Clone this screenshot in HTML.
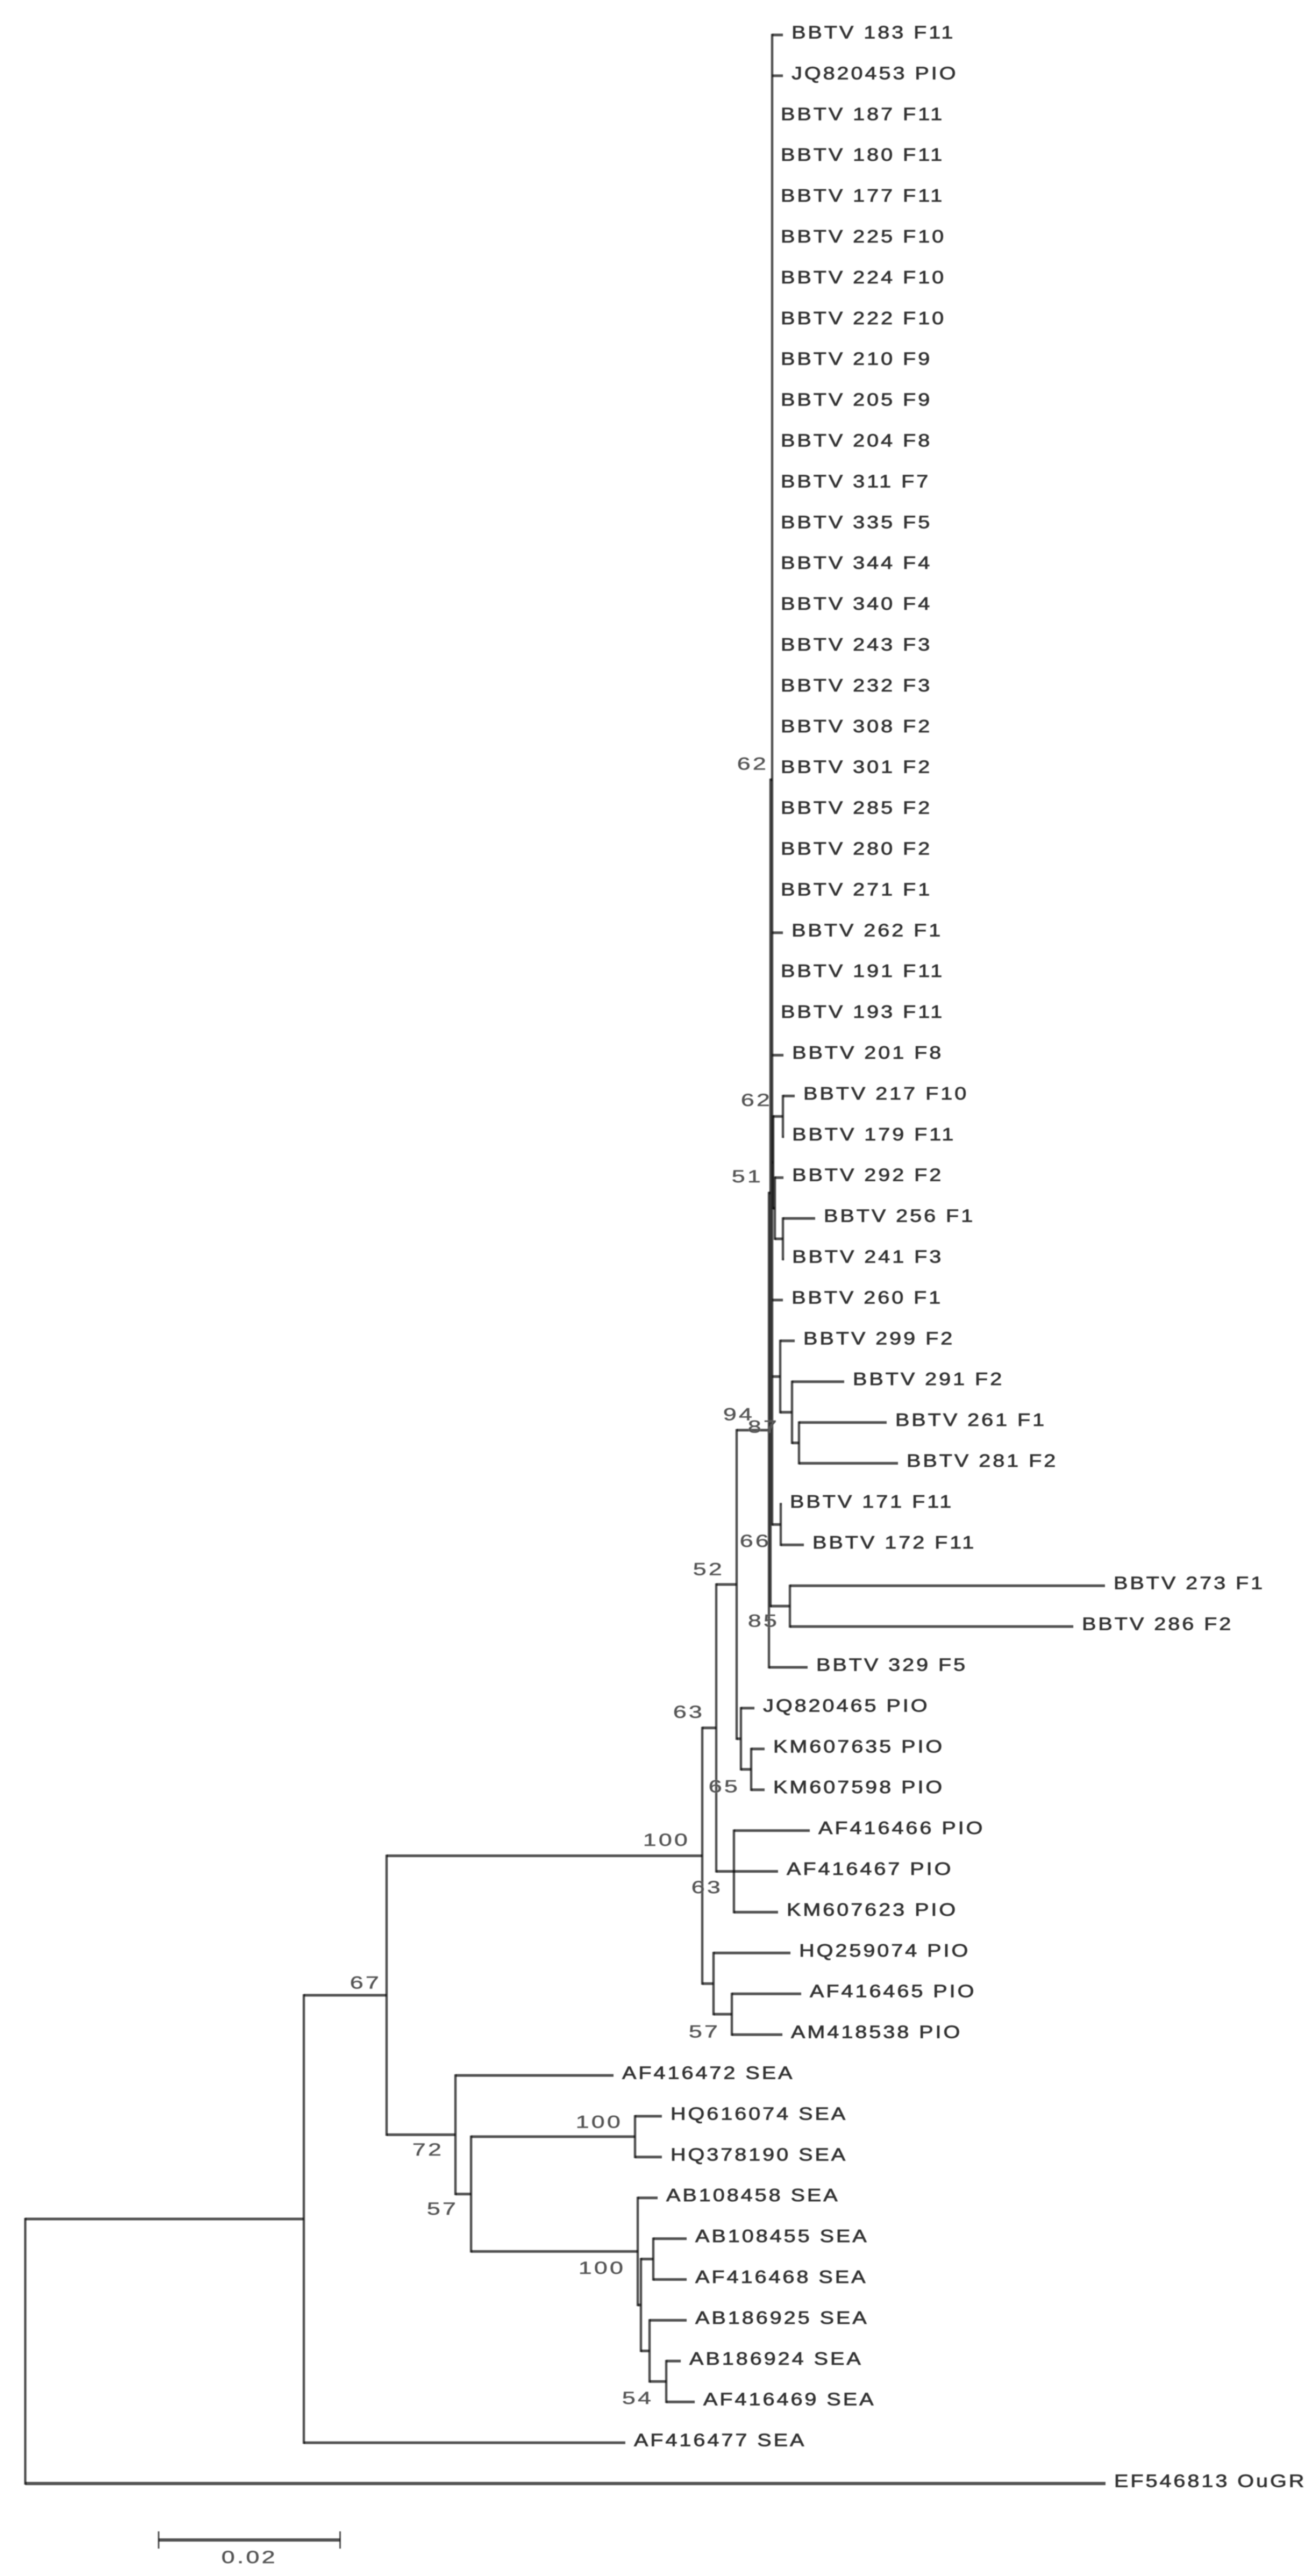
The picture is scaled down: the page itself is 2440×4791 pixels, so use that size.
<!DOCTYPE html>
<html lang="en">
<head>
<meta charset="utf-8">
<title>Phylogenetic tree of BBTV isolates</title>
<style>
  html, body { margin: 0; padding: 0; background: #fff; }
  body { width: 2440px; height: 4791px; overflow: hidden; }
  svg { display: block; }
  .branch { stroke: #000; stroke-opacity: .68; fill: none; stroke-linecap: butt; }
  .taxon { font-family: "Liberation Sans", sans-serif; font-size: 33px; letter-spacing: 3.3px; fill: #333; stroke: #333; stroke-width: .8px; }
  .support { font-family: "Liberation Sans", sans-serif; font-size: 32px; letter-spacing: 3px; fill: #555; stroke: #555; stroke-width: .5px; }
</style>
</head>
<body>
<svg id="tree" xmlns="http://www.w3.org/2000/svg" width="2440" height="4791" viewBox="0 0 2440 4791">
  <defs>
    <filter id="soft" x="0" y="0" width="2440" height="4791" filterUnits="userSpaceOnUse">
      <feGaussianBlur stdDeviation="0.9"/>
    </filter>
  </defs>
  <rect width="2440" height="4791" fill="#fff"/>
  <g id="plot" filter="url(#soft)"></g>
</svg>
<script>
// Taxa, top to bottom
const taxa = ["BBTV 183 F11","JQ820453 PIO","BBTV 187 F11","BBTV 180 F11","BBTV 177 F11","BBTV 225 F10","BBTV 224 F10","BBTV 222 F10","BBTV 210 F9","BBTV 205 F9","BBTV 204 F8","BBTV 311 F7","BBTV 335 F5","BBTV 344 F4","BBTV 340 F4","BBTV 243 F3","BBTV 232 F3","BBTV 308 F2","BBTV 301 F2","BBTV 285 F2","BBTV 280 F2","BBTV 271 F1","BBTV 262 F1","BBTV 191 F11","BBTV 193 F11","BBTV 201 F8","BBTV 217 F10","BBTV 179 F11","BBTV 292 F2","BBTV 256 F1","BBTV 241 F3","BBTV 260 F1","BBTV 299 F2","BBTV 291 F2","BBTV 261 F1","BBTV 281 F2","BBTV 171 F11","BBTV 172 F11","BBTV 273 F1","BBTV 286 F2","BBTV 329 F5","JQ820465 PIO","KM607635 PIO","KM607598 PIO","AF416466 PIO","AF416467 PIO","KM607623 PIO","HQ259074 PIO","AF416465 PIO","AM418538 PIO","AF416472 SEA","HQ616074 SEA","HQ378190 SEA","AB108458 SEA","AB108455 SEA","AF416468 SEA","AB186925 SEA","AB186924 SEA","AF416469 SEA","AF416477 SEA","EF546813 OuGR"];
// Divergence from the root (substitutions per site) of each taxon
const taxonDepth = [.08350,.08350,.08231,.08231,.08231,.08231,.08231,.08231,.08231,.08231,.08231,.08231,.08231,.08231,.08231,.08231,.08231,.08231,.08231,.08231,.08231,.08231,.08350,.08231,.08231,.08356,.08480,.08356,.08356,.08705,.08356,.08350,.08480,.09025,.09493,.09618,.08332,.08581,.11899,.11550,.08622,.08036,.08148,.08148,.08646,.08296,.08296,.08433,.08551,.08344,.06483,.07016,.07016,.06969,.07289,.07289,.07289,.07224,.07378,.06613,.11905];
// Clade each taxon attaches to
const taxonParent = ["T","T","T","T","T","T","T","T","T","T","T","T","T","T","T","T","T","T","T","T","T","T","T","T","T","T","n217","n217","X","Z","Z","T","O","P","Q","Q","N","N","M","M","J","K","L","L","I","I","I","F","G","G","D","HQ","HQ","AB","Ab2","Ab2","Ab3","Ab4","Ab4","A","root"];
// Internal clades
const cladeNames = ["root","A","B","C","D","E","F","G","H","I","J","K","L","J1","T","M","N","V","n217","X","Z","O","P","Q","Da","HQ","AB","Ab1","Ab2","Ab3","Ab4"];
const cladeParent = [null,"root","A","B","B","C","C","F","E","E","H","H","K","J","J1","J1","T","T","V","V","X","T","O","P","D","Da","Da","AB","Ab1","Ab1","Ab3"];
const cladeDepth = [0,.03070,.03982,.07461,.04741,.07615,.07585,.07787,.07840,.07810,.08196,.07887,.08000,.08213,.08231,.08427,.08326,.08243,.08350,.08261,.08350,.08320,.08450,.08527,.04913,.06720,.06750,.06785,.06921,.06880,.07064];
// Bootstrap support
const supportClades = ["T","n217","J1","J","O","N","M","H","E","L","C","I","G","B","D","Da","HQ","AB","Ab4"];
const supportValues = [62,62,51,94,87,66,85,52,63,65,100,63,57,67,72,57,100,100,54];
// Scale bar
const scaleBarLength = 0.02;
const scaleBarLabel = "0.02";

// Layout (presentation only)
const labelOffsets = {T:[-7,-30],n217:[-20,-31],J1:[-14,-31],J:[-27,-30],O:[-2,93],N:[-18,30],M:[-20,27],H:[-23,-29],E:[-22,-30],L:[-21,31],C:[-23,-30],I:[-21,29],G:[-22,32],B:[-10,-24],D:[-22,27],Da:[-24,27],HQ:[-23,-28],AB:[-23,30],Ab4:[-24,30]};
const xScale = d => 47 + d * 16875;
const yScale = row => 65 + row * 75.9;

const NS = "http://www.w3.org/2000/svg";
const plot = document.getElementById("plot");

function depthOf(name) { return cladeDepth[cladeNames.indexOf(name)]; }

function cladeY(name) {
  const ys = [];
  taxonParent.forEach((p, i) => { if (p === name) ys.push(yScale(i)); });
  cladeParent.forEach((p, i) => { if (p === name) ys.push(cladeY(cladeNames[i])); });
  return (Math.min(...ys) + Math.max(...ys)) / 2;
}
function cladeSpan(name) {
  const ys = [];
  taxonParent.forEach((p, i) => { if (p === name) ys.push(yScale(i)); });
  cladeParent.forEach((p, i) => { if (p === name) ys.push(cladeY(cladeNames[i])); });
  return [Math.min(...ys), Math.max(...ys)];
}
function makeLine(x1, y1, x2, y2, width) {
  const el = document.createElementNS(NS, "line");
  el.setAttribute("x1", x1);
  el.setAttribute("y1", y1);
  el.setAttribute("x2", x2);
  el.setAttribute("y2", y2);
  el.setAttribute("class", "branch");
  el.setAttribute("stroke-width", width);
  plot.appendChild(el);
  return el;
}

// Clade stems and vertical connectors
cladeNames.forEach((name, i) => {
  const x = xScale(cladeDepth[i]);
  const span = cladeSpan(name);
  const v = makeLine(x, span[0] - 2, x, span[1] + 2, 4.5);
  
  
  if (cladeParent[i] !== null) {
    const y = cladeY(name);
    const h = makeLine(xScale(depthOf(cladeParent[i])), y, x, y, 5);
    
    
  }
});

// Taxa branches and labels
taxa.forEach((name, i) => {
  const y = yScale(i);
  const xEnd = xScale(taxonDepth[i]);
  const xStart = xScale(depthOf(taxonParent[i]));
  if (xEnd - xStart > 0.5) {
    const h = makeLine(xStart, y, xEnd, y, i === 60 ? 6 : 5);
    
    
  }
  const t = document.createElementNS(NS, "text");
  t.setAttribute("class", "taxon");
  t.setAttribute("transform", "translate(" + (xEnd + 16) + "," + (y + 6.5) + ") scale(1.2,1)");
  t.textContent = name;
  
  
  plot.appendChild(t);
});

// Bootstrap support values
supportClades.forEach((name, i) => {
  const off = labelOffsets[name];
  const t = document.createElementNS(NS, "text");
  t.setAttribute("class", "support");
  t.setAttribute("text-anchor", "end");
  t.setAttribute("transform", "translate(" + (xScale(depthOf(name)) + off[0]) + "," + (cladeY(name) + off[1] + 11.5) + ") scale(1.4,1)");
  t.textContent = supportValues[i];
  
  
  plot.appendChild(t);
});

// Scale bar
const barLeft = 295;
const barRight = barLeft + (xScale(scaleBarLength) - xScale(0));
const barY = 4724;
const barLine = makeLine(barLeft, barY, barRight, barY, 6);


[barLeft, barRight].forEach(x => {
  const tick = makeLine(x, barY - 16, x, barY + 16, 3);
  
  
});
const barText = document.createElementNS(NS, "text");
barText.setAttribute("class", "support");
barText.setAttribute("text-anchor", "middle");
barText.setAttribute("transform", "translate(" + ((barLeft + barRight) / 2) + ",4767) scale(1.4,1)");
barText.textContent = scaleBarLabel;


plot.appendChild(barText);
</script>
</body>
</html>
